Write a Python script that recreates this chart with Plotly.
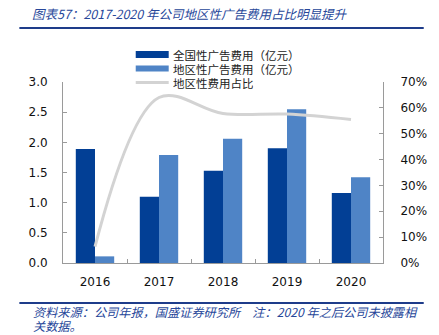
import plotly.graph_objects as go

years = ["2016", "2017", "2018", "2019", "2020"]
national_ad = [1.89, 1.10, 1.53, 1.90, 1.16]   # 全国性广告费用（亿元）
regional_ad = [0.11, 1.79, 2.06, 2.55, 1.42]   # 地区性广告费用（亿元）
regional_share = [0.063, 0.640, 0.578, 0.576, 0.555]  # 地区性费用占比

left_ticks = [0, 0.5, 1.0, 1.5, 2.0, 2.5, 3.0]
right_ticks = [0, 0.1, 0.2, 0.3, 0.4, 0.5, 0.6, 0.7]

DARK = "#023F95"
LIGHT = "#4F84C6"
GREY = "#D3D3D3"
TITLE_BLUE = "#27479A"
AXIS = "#9A9A9A"

W, H = 439, 335
L, R, T, B = 63, 46, 82, 72
PW, PH = W - L - R, H - T - B


def px(x):
    return (x - L) / PW


def py(y):
    return (H - B - y) / PH


fig = go.Figure()
fig.add_trace(go.Bar(x=years, y=national_ad, name="全国性广告费用（亿元）",
                     marker=dict(color=DARK, line=dict(width=0)), showlegend=False))
fig.add_trace(go.Bar(x=years, y=regional_ad, name="地区性广告费用（亿元）",
                     marker=dict(color=LIGHT, line=dict(width=0)), showlegend=False))
fig.add_trace(go.Scatter(x=years, y=regional_share, name="地区性费用占比", yaxis="y2",
                         mode="lines", line=dict(color=GREY, width=3, shape="spline", smoothing=1.0),
                         showlegend=False))

tick_font = dict(family="DejaVu Sans", size=12, color="#111111")

fig.update_layout(
    width=W, height=H,
    margin=dict(l=L, r=R, t=T, b=B),
    paper_bgcolor="white", plot_bgcolor="white",
    barmode="group", bargap=0.4, bargroupgap=0,
    xaxis=dict(type="category", showline=True, linecolor=AXIS, linewidth=1,
               ticks="inside", ticklen=4, tickcolor=AXIS, tickson="boundaries",
               showgrid=False, tickfont=tick_font, ticklabelstandoff=8),
    yaxis=dict(range=[0, 3], tickvals=left_ticks, ticktext=[f"{v:.1f}" for v in left_ticks],
               showline=True, linecolor=AXIS, linewidth=1, ticks="inside", ticklen=4,
               tickcolor=AXIS, showgrid=False, zeroline=False, tickfont=tick_font,
               ticklabelstandoff=12),
    yaxis2=dict(range=[0, 0.7], tickvals=right_ticks,
                ticktext=[f"{round(v * 100)}%" for v in right_ticks],
                overlaying="y", side="right", showline=True, linecolor=AXIS, linewidth=1,
                ticks="inside", ticklen=4, tickcolor=AXIS, showgrid=False, zeroline=False,
                tickfont=tick_font, ticklabelstandoff=14),
)

shapes = []
annotations = []

# title and rules
annotations.append(dict(xref="paper", yref="paper", x=px(29), y=py(13), xanchor="left",
                        yanchor="middle", showarrow=False,
                        text="<i>图表57：2017-2020 年公司地区性广告费用占比明显提升</i>",
                        font=dict(family="Noto Sans CJK SC", size=12.5, color=TITLE_BLUE)))
shapes.append(dict(type="line", xref="paper", yref="paper", x0=px(18), x1=px(435),
                   y0=py(28), y1=py(28), line=dict(color="#1E3C8A", width=2)))
shapes.append(dict(type="line", xref="paper", yref="paper", x0=px(18), x1=px(435),
                   y0=py(303), y1=py(303), line=dict(color="#1E3C8A", width=2)))

# source note, wrapped over two lines
source_lines = [
    ("资料来源：公司年报，国盛证券研究所　注：2020 年之后公司未披露相", 312),
    ("关数据。", 326),
]
for text, yc in source_lines:
    annotations.append(dict(xref="paper", yref="paper", x=px(30), y=py(yc), xanchor="left",
                            yanchor="middle", showarrow=False, height=14, text=f"<i>{text}</i>",
                            font=dict(family="Noto Sans CJK SC", size=12.2, color=TITLE_BLUE)))

# legend
legend_rows = [
    ("全国性广告费用（亿元）", DARK, 7, 54.5),
    ("地区性广告费用（亿元）", LIGHT, 6, 68.5),
    ("地区性费用占比", GREY, 3, 82.5),
]
for label, color, thick, yc in legend_rows:
    shapes.append(dict(type="line", xref="paper", yref="paper", x0=px(138), x1=px(172),
                       y0=py(yc), y1=py(yc), line=dict(color=color, width=thick)))
    annotations.append(dict(xref="paper", yref="paper", x=px(174), y=py(yc), xanchor="left",
                            yanchor="middle", showarrow=False, height=13, text=label,
                            font=dict(family="Noto Sans CJK SC", size=11.5, color="#222222")))

fig.update_layout(shapes=shapes, annotations=annotations)

fig.write_html("out.html")
